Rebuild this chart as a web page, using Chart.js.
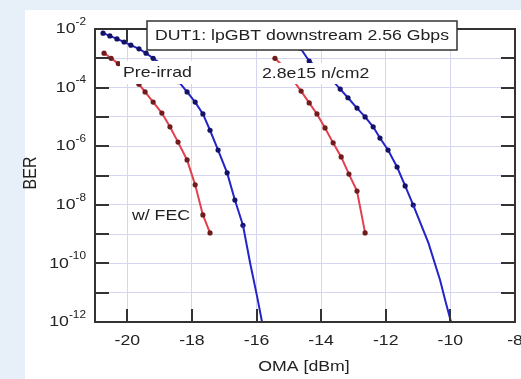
<!DOCTYPE html>
<html>
<head>
<meta charset="utf-8">
<script src="https://cdn.jsdelivr.net/npm/chart.js@4.4.1/dist/chart.umd.min.js"></script>
<style>
  html, body { margin: 0; padding: 0; background: #e7f0f9; }
  #wrap { width: 521px; height: 379px; }
</style>
</head>
<body>
<div id="wrap"><canvas id="chart-ber" width="521" height="379"></canvas></div>
<script>
// ---- data (OMA in dBm, BER) ----
var omaPreNoFec = [-20.75, -20.54, -20.32, -20.10, -19.89, -19.64, -19.42, -19.20, -18.94, -18.68, -18.41, -18.15, -17.90, -17.66, -17.44, -17.19, -16.91, -16.67, -16.42];
var berPreNoFec = [7.2e-3, 5.8e-3, 4.6e-3, 3.6e-3, 2.8e-3, 2.1e-3, 1.5e-3, 1.0e-3, 6.3e-4, 3.5e-4, 1.6e-4, 7.1e-5, 3.2e-5, 1.26e-5, 3.5e-6, 7.4e-7, 1.23e-7, 1.45e-8, 2.0e-9];
var omaPreNoFecFit = [-16.42, -16.20, -15.98, -15.83];
var berPreNoFecFit = [2.0e-9, 1.05e-10, 7.2e-12, 1.0e-12];

var omaPreFec = [-20.72, -20.50, -20.28, -20.06, -19.84, -19.64, -19.45, -19.20, -18.93, -18.68, -18.43, -18.15, -17.90, -17.66, -17.44];
var berPreFec = [1.5e-3, 1.0e-3, 6.6e-4, 4.0e-4, 2.3e-4, 1.3e-4, 7.1e-5, 3.2e-5, 1.35e-5, 4.6e-6, 1.38e-6, 3.4e-7, 4.8e-8, 4.5e-9, 1.1e-9];

var omaIrrNoFec = [-15.05, -14.85, -14.64, -14.37, -14.13, -13.88, -13.63, -13.41, -13.17, -12.89, -12.64, -12.39, -12.18, -11.93, -11.65, -11.40, -11.15];
var berIrrNoFec = [6.3e-3, 4.0e-3, 2.2e-3, 8.1e-4, 5.0e-4, 3.0e-4, 1.66e-4, 8.9e-5, 4.5e-5, 2.0e-5, 1.0e-5, 4.6e-6, 1.9e-6, 7.4e-7, 1.95e-7, 4.4e-8, 9.8e-9];
var omaIrrNoFecFit = [-11.15, -10.68, -10.32, -10.15, -9.98];
var berIrrNoFecFit = [9.8e-9, 5.0e-10, 2.7e-11, 5.0e-12, 1.0e-12];

var omaIrrFec = [-15.43, -15.15, -14.90, -14.62, -14.37, -14.13, -13.88, -13.63, -13.38, -13.14, -12.89, -12.64];
var berIrrFec = [1.0e-3, 5.0e-4, 2.0e-4, 7.6e-5, 3.0e-5, 1.26e-5, 4.2e-6, 1.3e-6, 4.3e-7, 1.12e-7, 2.95e-8, 1.1e-9];

var xTicks = [-20, -18, -16, -14, -12, -10, -8];
var yDecades = [-12, -11, -10, -9, -8, -7, -6, -5, -4, -3, -2];
var yLabelDecades = [-12, -10, -8, -6, -4, -2];

var TITLE = 'DUT1: lpGBT downstream 2.56 Gbps';

var BLUE = '#2424c8', BLUE_DOT = '#141266';
var RED = '#e2404e', RED_DOT = '#701c1c';
var TEXT = '#222';
var SX = 1.18; // the reference text is slightly stretched sideways

function pts(xs, ys) {
  return xs.map(function (x, i) { return { x: x, y: ys[i] }; });
}

function series(xs, ys, color, dot, marked) {
  return {
    data: pts(xs, ys),
    showLine: true,
    borderColor: color,
    borderWidth: 2,
    backgroundColor: dot,
    pointBorderColor: dot,
    pointRadius: marked ? 2.6 : 0,
    pointBorderWidth: 0
  };
}

function txt(ctx, s, x, y, size, align) {
  ctx.save();
  ctx.font = size + 'px "Liberation Sans", Arial, sans-serif';
  ctx.fillStyle = TEXT;
  ctx.textBaseline = 'middle';
  ctx.textAlign = align || 'left';
  ctx.translate(x, y);
  ctx.scale(SX, 1);
  ctx.fillText(s, 0, 0);
  ctx.restore();
}

function txtWidth(ctx, s, size) {
  ctx.save();
  ctx.font = size + 'px "Liberation Sans", Arial, sans-serif';
  var w = ctx.measureText(s).width * SX;
  ctx.restore();
  return w;
}

var decorPlugin = {
  id: 'decor',
  beforeDraw: function (chart) {
    var ctx = chart.ctx;
    ctx.save();
    ctx.fillStyle = '#e7f0f9';
    ctx.fillRect(0, 0, chart.width, chart.height);
    ctx.fillStyle = '#ffffff';
    ctx.fillRect(25, 10, chart.width - 25, chart.height - 10);
    ctx.restore();
  },
  afterDraw: function (chart) {
    var ctx = chart.ctx, a = chart.chartArea;
    var xs = chart.scales.x, ys = chart.scales.y;
    ctx.save();

    // white boxes behind the in-plot labels
    ctx.fillStyle = '#ffffff';
    ctx.fillRect(120, 61, 76, 23);
    ctx.fillRect(260, 63, 115, 21);

    // frame
    ctx.strokeStyle = '#333';
    ctx.lineWidth = 2;
    ctx.strokeRect(a.left, a.top, a.right - a.left, a.bottom - a.top);

    // inward ticks
    ctx.lineWidth = 2;
    ctx.beginPath();
    xTicks.forEach(function (v) {
      var px = Math.round(xs.getPixelForValue(v));
      ctx.moveTo(px, a.bottom); ctx.lineTo(px, a.bottom - 13);
      ctx.moveTo(px, a.top); ctx.lineTo(px, a.top + 13);
    });
    yDecades.forEach(function (e) {
      var py = Math.round(ys.getPixelForValue(Math.pow(10, e)));
      ctx.moveTo(a.left, py); ctx.lineTo(a.left + 14, py);
      ctx.moveTo(a.right, py); ctx.lineTo(a.right - 14, py);
    });
    ctx.stroke();

    // x tick labels
    xTicks.forEach(function (v) {
      txt(ctx, String(v).replace('-', '-'), xs.getPixelForValue(v), 341, 15, 'center');
    });

    // y tick labels: 10 with raised exponent
    yLabelDecades.forEach(function (e) {
      var py = ys.getPixelForValue(Math.pow(10, e));
      var ex = String(e);
      var right = 86;
      var ew = txtWidth(ctx, ex, 10);
      txt(ctx, ex, right, py - 7, 10, 'right');
      txt(ctx, '10', right - ew, py, 15, 'right');
    });

    // axis titles
    txt(ctx, 'OMA [dBm]', 304, 367, 15, 'center');
    ctx.save();
    ctx.translate(31, 173);
    ctx.rotate(-Math.PI / 2);
    ctx.font = '16px "Liberation Sans", Arial, sans-serif';
    ctx.fillStyle = TEXT;
    ctx.textAlign = 'center';
    ctx.textBaseline = 'middle';
    ctx.scale(1, SX);
    ctx.fillText('BER', 0, 0);
    ctx.restore();

    // in-plot labels
    txt(ctx, 'Pre-irrad', 123, 73, 15, 'left');
    txt(ctx, '2.8e15 n/cm2', 262, 74, 15, 'left');
    txt(ctx, 'w/ FEC', 132, 216, 15, 'left');

    // title box
    ctx.fillStyle = '#ffffff';
    ctx.fillRect(147, 21, 310, 29);
    ctx.strokeStyle = '#333';
    ctx.lineWidth = 1.5;
    ctx.strokeRect(147, 21, 310, 29);
    txt(ctx, TITLE, 302, 36, 15, 'center');

    ctx.restore();
  }
};

new Chart(document.getElementById('chart-ber').getContext('2d'), {
  type: 'scatter',
  data: {
    datasets: [
      series(omaPreNoFecFit, berPreNoFecFit, BLUE, BLUE_DOT, false),
      series(omaPreNoFec, berPreNoFec, BLUE, BLUE_DOT, true),
      series(omaPreFec, berPreFec, RED, RED_DOT, true),
      series(omaIrrNoFecFit, berIrrNoFecFit, BLUE, BLUE_DOT, false),
      series(omaIrrNoFec, berIrrNoFec, BLUE, BLUE_DOT, true),
      series(omaIrrFec, berIrrFec, RED, RED_DOT, true)
    ]
  },
  options: {
    responsive: false,
    animation: false,
    layout: { padding: { left: 95, top: 29, right: 6, bottom: 57 } },
    plugins: { legend: { display: false }, tooltip: { enabled: false } },
    scales: {
      x: {
        type: 'linear',
        min: -21,
        max: -8,
        afterBuildTicks: function (s) { s.ticks = xTicks.map(function (v) { return { value: v }; }); },
        ticks: { display: false },
        grid: { color: '#d3d6ee', lineWidth: 1, drawTicks: false },
        border: { display: false }
      },
      y: {
        type: 'logarithmic',
        min: 1e-12,
        max: 1e-2,
        afterBuildTicks: function (s) { s.ticks = yDecades.map(function (e) { return { value: Math.pow(10, e) }; }); },
        ticks: { display: false },
        grid: { color: '#d3d6ee', lineWidth: 1, drawTicks: false },
        border: { display: false }
      }
    }
  },
  plugins: [decorPlugin]
});
</script>
</body>
</html>
